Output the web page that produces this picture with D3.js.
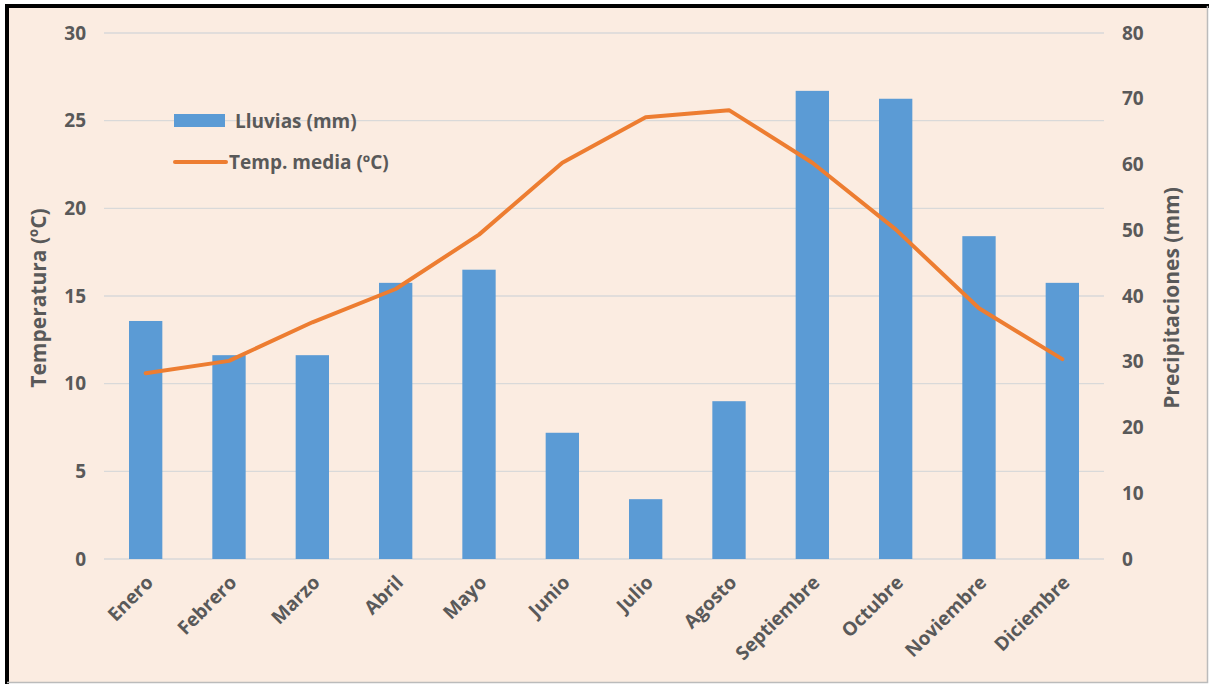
<!DOCTYPE html>
<html>
<head>
<meta charset="utf-8">
<script src="https://cdn.jsdelivr.net/npm/d3@7"></script>
<style>
  html, body { margin: 0; padding: 0; background: #fff; }
  svg { display: block; }
  text { font-family: "Open Sans", Lato, sans-serif; font-weight: bold; fill: #595959; }
</style>
</head>
<body>
<svg id="chart" width="1209" height="684"></svg>
<script>
// Monthly climate data
const months = ["Enero", "Febrero", "Marzo", "Abril", "Mayo", "Junio", "Julio", "Agosto", "Septiembre", "Octubre", "Noviembre", "Diciembre"];
const rainfall = [36.2, 31, 31, 42, 44, 19.2, 9.1, 24, 71.2, 70, 49.1, 42];        // mm
const temperature = [10.6, 11.3, 13.5, 15.4, 18.5, 22.6, 25.2, 25.6, 22.6, 18.8, 14.3, 11.4]; // ºC
const tempTicks = [0, 5, 10, 15, 20, 25, 30];
const rainTicks = [0, 10, 20, 30, 40, 50, 60, 70, 80];

const svg = d3.select("#chart");
const W = 1209, H = 684;
const FS = "19px";

// Background and frame
svg.append("rect").attr("x", 0).attr("y", 0).attr("width", W).attr("height", H).attr("fill", "#fff");
svg.append("rect").attr("x", 7).attr("y", 6).attr("width", W - 8).attr("height", H - 7)
  .attr("fill", "#FBECE1");
svg.append("path").attr("d", `M7,${H} V6 H${W}`).attr("fill", "none").attr("stroke", "#000").attr("stroke-width", 4);
svg.append("path").attr("d", `M${W - 1.5},6 V${H - 1.5} H7`).attr("fill", "none").attr("stroke", "#bbb").attr("stroke-width", 1.5);

const plot = { left: 104, right: 1104, top: 33, bottom: 559 };

const x = d3.scaleBand().domain(months).range([plot.left, plot.right]).paddingInner(0.6).paddingOuter(0.3);
const xc = d3.scaleBand().domain(months).range([plot.left, plot.right]);
const yT = d3.scaleLinear().domain([0, 30]).range([plot.bottom, plot.top]);
const yR = d3.scaleLinear().domain([0, 80]).range([plot.bottom, plot.top]);

// Gridlines
svg.append("g").selectAll("line").data(tempTicks).join("line")
  .attr("x1", plot.left).attr("x2", plot.right)
  .attr("y1", d => yT(d)).attr("y2", d => yT(d))
  .attr("stroke", "#D9D9D9").attr("stroke-width", 1.3);

// Left axis (temperature)
const leftAxis = svg.append("g").attr("transform", `translate(${plot.left - 18},0)`)
  .call(d3.axisLeft(yT).tickValues(tempTicks).tickSize(0).tickPadding(0));
leftAxis.select(".domain").remove();
leftAxis.selectAll("text").style("font-size", FS).attr("fill", "#595959");

// Right axis (rainfall)
const rightAxis = svg.append("g").attr("transform", `translate(${plot.right + 18},0)`)
  .call(d3.axisRight(yR).tickValues(rainTicks).tickSize(0).tickPadding(0));
rightAxis.select(".domain").remove();
rightAxis.selectAll("text").style("font-size", FS).attr("fill", "#595959");

// Bars
svg.append("g").selectAll("rect").data(months).join("rect")
  .attr("x", d => x(d))
  .attr("width", x.bandwidth())
  .attr("y", (d, i) => yR(rainfall[i]))
  .attr("height", (d, i) => yR(0) - yR(rainfall[i]))
  .attr("fill", "#5B9BD5");

// Temperature line
const line = d3.line()
  .x((d, i) => xc(months[i]) + xc.bandwidth() / 2)
  .y(d => yT(d));
svg.append("path").datum(temperature)
  .attr("d", line)
  .attr("fill", "none").attr("stroke", "#ED7D31").attr("stroke-width", 4)
  .attr("stroke-linejoin", "round").attr("stroke-linecap", "round");

// Month labels
svg.append("g").selectAll("text").data(months).join("text")
  .attr("transform", d => `translate(${xc(d) + xc.bandwidth() / 2 + 4},${plot.bottom + 20}) rotate(-45)`)
  .attr("text-anchor", "end")
  .attr("dy", "0.35em")
  .style("font-size", FS)
  .text(d => d);

// Axis titles
svg.append("text")
  .attr("transform", `translate(46,${(plot.top + plot.bottom) / 2 + 2}) rotate(-90)`)
  .attr("text-anchor", "middle").style("font-size", "21px")
  .text("Temperatura (ºC)");
svg.append("text")
  .attr("transform", `translate(1179,${(plot.top + plot.bottom) / 2 + 2}) rotate(-90)`)
  .attr("text-anchor", "middle").style("font-size", "21px")
  .text("Precipitaciones  (mm)");

// Legend
const legend = svg.append("g");
legend.append("rect").attr("x", 174).attr("y", 114).attr("width", 51).attr("height", 13).attr("fill", "#5B9BD5");
legend.append("text").attr("x", 235).attr("y", 121).attr("dy", "0.35em").style("font-size", FS).text("Lluvias (mm)");
legend.append("line").attr("x1", 175).attr("x2", 226).attr("y1", 162).attr("y2", 162)
  .attr("stroke", "#ED7D31").attr("stroke-width", 4).attr("stroke-linecap", "round");
legend.append("text").attr("x", 229).attr("y", 162).attr("dy", "0.35em").style("font-size", FS).text("Temp. media (ºC)");
</script>
</body>
</html>
